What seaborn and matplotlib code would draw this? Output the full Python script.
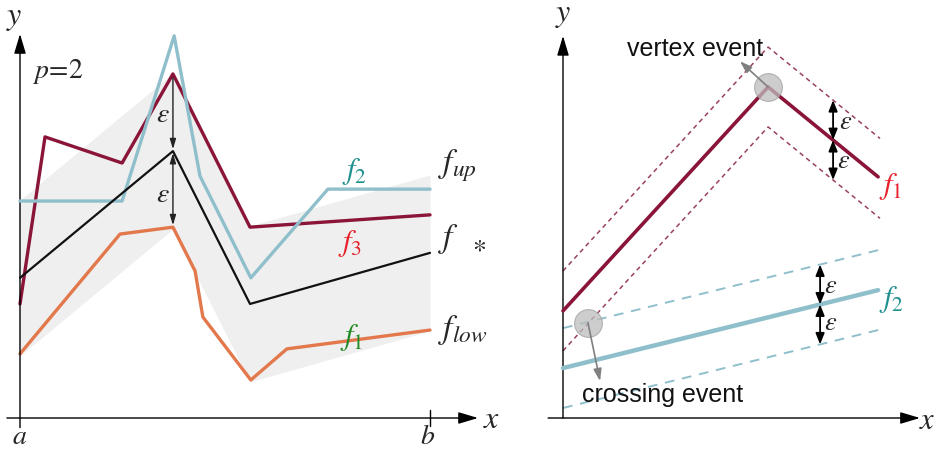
import numpy as np
import pandas as pd
import matplotlib
matplotlib.use("Agg")
import matplotlib.pyplot as plt
import seaborn as sns

sns.set_theme(style="white")
plt.rcParams["mathtext.fontset"] = "stix"
plt.rcParams["font.family"] = ["Liberation Sans", "DejaVu Sans"]

# ---------------- left panel data (x from a=0 to b=10) ----------------
f_x = [0, 3.73, 5.61, 10]
f_y = [3.65, 6.95, 2.97, 4.30]
eps_left = 2.03

f3_x = [0, 0.61, 2.49, 3.73, 5.61, 10]
f3_y = [2.97, 7.32, 6.64, 8.96, 4.97, 5.29]

f2_x = [0, 2.49, 3.76, 4.39, 5.63, 7.51, 10]
f2_y = [5.65, 5.65, 9.95, 6.30, 3.65, 5.96, 5.96]

f1_x = [0, 2.44, 3.73, 4.27, 4.46, 5.63, 6.51, 10]
f1_y = [1.67, 4.79, 4.97, 3.83, 2.63, 0.99, 1.80, 2.29]

# ---------------- right panel data ----------------
r1_x = [0, 6.47, 9.94]
r1_y = [2.79, 8.62, 6.28]
r2_x = [0, 9.94]
r2_y = [1.30, 3.33]
band_x_end = 10.0
eps_right = 1.04
vertex_pt = (6.47, 8.62)
cross_pt = (0.79, 2.47)

C_F = "#111111"
C_F3 = "#8a1538"
C_F2 = "#90bfcc"
C_F1 = "#e2784c"
C_BAND = "#efefef"
C_RED_LBL = "#e8202a"
C_TEAL_LBL = "#1f8f8f"
C_GREEN_LBL = "#208a20"

W, H = 939, 452
fig = plt.figure(figsize=(W / 100, H / 100), dpi=100)

ax1 = fig.add_axes([0, 0, 500 / W, 1])
ax1.set_xlim(-20 / 41, 480 / 41)
ax1.set_ylim(-33 / 38.4, 419 / 38.4)
ax1.axis("off")

ax2 = fig.add_axes([540 / W, 0, 399 / W, 1])
ax2.set_xlim(-23 / 31.7, 376 / 31.7)
ax2.set_ylim(-33 / 38.4, 419 / 38.4)
ax2.axis("off")

# ---------- left panel ----------
fx = np.array(f_x, dtype=float)
fy = np.array(f_y, dtype=float)
ax1.fill_between(fx, fy - eps_left, fy + eps_left, color=C_BAND, lw=0, zorder=1)

def sline(ax, x, y, color, lw, z, **kw):
    df = pd.DataFrame({"x": x, "y": y})
    sns.lineplot(data=df, x="x", y="y", ax=ax, color=color, lw=lw,
                 estimator=None, sort=False, zorder=z, **kw)

sline(ax1, f3_x, f3_y, C_F3, 2.4, 3)
sline(ax1, f2_x, f2_y, C_F2, 2.4, 4)
sline(ax1, f1_x, f1_y, C_F1, 2.4, 3)
sline(ax1, f_x, f_y, C_F, 1.6, 5)
ax1.set_xlabel(""); ax1.set_ylabel("")

AX_ARROW = dict(arrowstyle="-|>,head_length=1.0,head_width=0.3", color="black", lw=1.0, shrinkA=0, shrinkB=0)
ax1.annotate("", xy=(11.17, 0), xytext=(-0.32, 0), arrowprops=AX_ARROW)
ax1.annotate("", xy=(0, 10.0), xytext=(0, -0.25), arrowprops=AX_ARROW)
ax1.plot([10, 10], [-0.2, 0.2], color="black", lw=1.0)

ax1.text(-0.15, 10.44, "$y$", fontsize=23, ha="center", va="center")
ax1.text(11.5, -0.03, "$x$", fontsize=23, ha="center", va="center")
ax1.text(0.0, -0.47, "$a$", fontsize=20, ha="center", va="center")
ax1.text(9.95, -0.47, "$b$", fontsize=20, ha="center", va="center")
ax1.text(0.3, 9.04, r"$p\!=\!2$", fontsize=20, ha="left", va="center")

ax1.text(10.2, 6.6, r"$f_{up}$", fontsize=24, ha="left", va="center")
ax1.text(10.2, 4.7, r"$f$", fontsize=24, ha="left", va="center")
ax1.text(11.2, 4.4, r"$*$", fontsize=20, ha="center", va="center")
ax1.text(10.2, 2.32, r"$f_{low}$", fontsize=24, ha="left", va="center")

ax1.text(8.17, 6.45, r"$f_2$", fontsize=22, ha="center", va="center", color=C_TEAL_LBL)
ax1.text(8.05, 4.58, r"$f_3$", fontsize=22, ha="center", va="center", color=C_RED_LBL)
ax1.text(8.1, 2.13, r"$f_1$", fontsize=22, ha="center", va="center", color=C_GREEN_LBL)

# epsilon arrows on left
xe = f_x[1]
ax1.annotate("", xy=(xe, f_y[1] + 0.05), xytext=(xe, f3_y[3] - 0.1),
             arrowprops=dict(arrowstyle="-|>,head_length=0.5,head_width=0.15", color="#222222", lw=1.0, shrinkA=0, shrinkB=0), zorder=6)
ax1.annotate("", xy=(xe, f1_y[2] + 0.05), xytext=(xe, f_y[1] - 0.05),
             arrowprops=dict(arrowstyle="<|-|>,head_length=0.5,head_width=0.15", color="#222222", lw=1.0, shrinkA=0, shrinkB=0), zorder=6)
ax1.text(3.49, 7.92, r"$\varepsilon$", fontsize=20, ha="center", va="center")
ax1.text(3.49, 5.83, r"$\varepsilon$", fontsize=20, ha="center", va="center")

# ---------- right panel ----------
r1x = np.array(r1_x, dtype=float); r1y = np.array(r1_y, dtype=float)
r2x = np.array(r2_x, dtype=float); r2y = np.array(r2_y, dtype=float)

def r1_at(x):
    slope = (r1y[2] - r1y[1]) / (r1x[2] - r1x[1])
    return np.where(x <= r1x[1], np.interp(x, r1x, r1y), r1y[1] + slope * (x - r1x[1]))
def r2_at(x):
    slope = (r2y[1] - r2y[0]) / (r2x[1] - r2x[0])
    return r2y[0] + slope * (x - r2x[0])

bx1 = np.array([r1x[0], r1x[1], band_x_end])
bx2 = np.array([r2x[0], band_x_end])
for s in (1, -1):
    ax2.plot(bx1, r1_at(bx1) + s * eps_right, color="#9a4060", lw=1.1, ls=(0, (3, 2.5)), zorder=2)
    ax2.plot(bx2, r2_at(bx2) + s * eps_right, color=C_F2, lw=1.4, ls=(0, (5, 4)), zorder=2)

sline(ax2, r1_x, r1_y, C_F3, 2.6, 4)
sline(ax2, r2_x, r2_y, C_F2, 3.2, 4)
ax2.set_xlabel(""); ax2.set_ylabel("")

ax2.annotate("", xy=(11.26, 0), xytext=(-0.47, 0), arrowprops=AX_ARROW)
ax2.annotate("", xy=(0, 9.95), xytext=(0, 0), arrowprops=AX_ARROW)
ax2.text(0.0, 10.52, "$y$", fontsize=23, ha="center", va="center")
ax2.text(11.5, -0.05, "$x$", fontsize=22, ha="center", va="center")

# events
ax2.scatter([vertex_pt[0], cross_pt[0]], [vertex_pt[1], cross_pt[1]], s=400,
            color="#bdbdbd", alpha=0.75, edgecolor="#a0a0a0", lw=0.8, zorder=6)
EV_ARROW = dict(arrowstyle="-|>,head_length=0.6,head_width=0.2", color="#808080", lw=1.2, shrinkA=0, shrinkB=0)
ax2.annotate("", xy=(5.58, 9.29), xytext=vertex_pt, arrowprops=EV_ARROW, zorder=7)
ax2.annotate("", xy=(1.17, 0.96), xytext=cross_pt, arrowprops=EV_ARROW, zorder=7)
ax2.text(4.16, 9.63, "vertex event", fontsize=18, ha="center", va="center", color="#111111")
ax2.text(3.15, 0.62, "crossing event", fontsize=18, ha="center", va="center", color="#111111")

# epsilon arrows on right
EPS_ARROW = dict(arrowstyle="<|-|>,head_length=0.55,head_width=0.22", color="black", lw=1.3, shrinkA=0, shrinkB=0)
xa = 8.52
ya = float(r1_at(np.array(xa)))
for s in (1, -1):
    ax2.annotate("", xy=(xa, ya + s * eps_right), xytext=(xa, ya), arrowprops=EPS_ARROW, zorder=7)
ax2.text(8.92, ya + 0.5, r"$\varepsilon$", fontsize=19, ha="center", va="center")
ax2.text(8.85, ya - 0.52, r"$\varepsilon$", fontsize=19, ha="center", va="center")

xb = 8.11
yb = float(r2_at(np.array(xb)))
for s in (1, -1):
    ax2.annotate("", xy=(xb, yb + s * eps_right), xytext=(xb, yb), arrowprops=EPS_ARROW, zorder=7)
ax2.text(8.45, yb + 0.5, r"$\varepsilon$", fontsize=19, ha="center", va="center")
ax2.text(8.45, yb - 0.46, r"$\varepsilon$", fontsize=19, ha="center", va="center")

ax2.text(10.35, 6.05, r"$f_1$", fontsize=22, ha="center", va="center", color=C_RED_LBL)
ax2.text(10.35, 3.1, r"$f_2$", fontsize=22, ha="center", va="center", color=C_TEAL_LBL)

fig.savefig("out.png", dpi=100)
